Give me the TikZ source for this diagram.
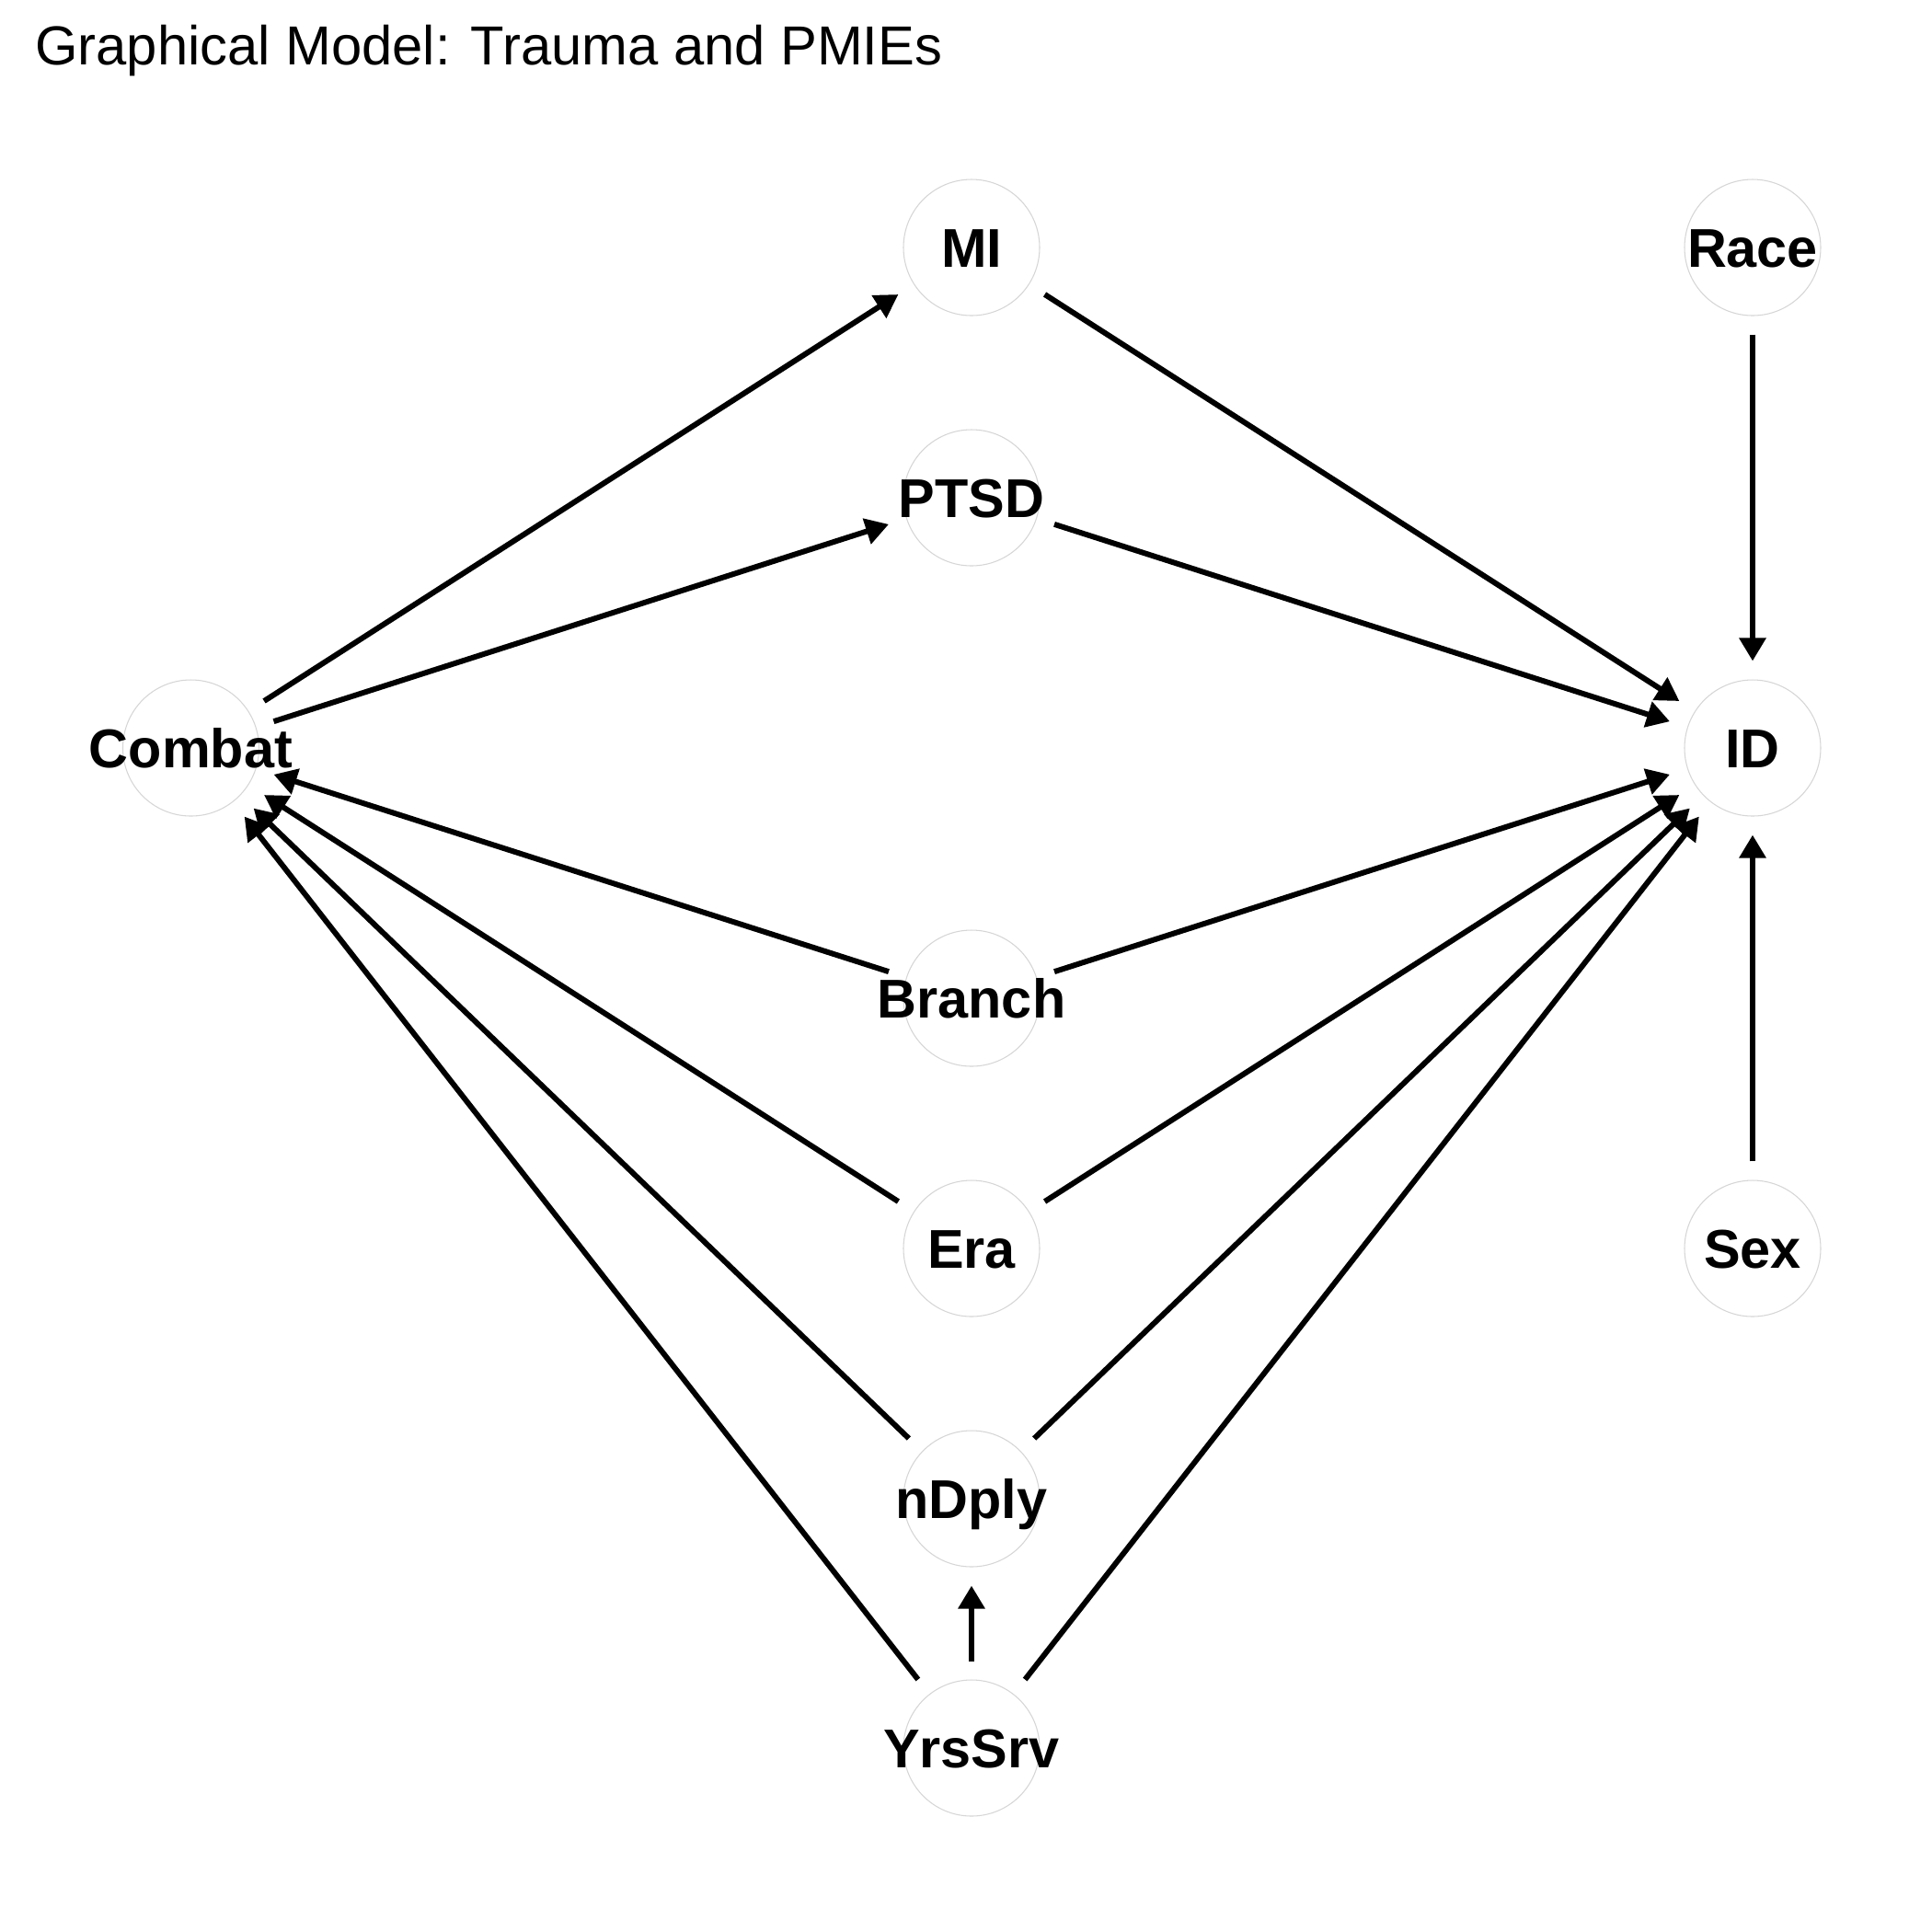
\documentclass[tikz,border=0pt]{standalone}
\usepackage{fontspec}
\setmainfont{Liberation Sans}
\usetikzlibrary{arrows.meta}

% label text: zero width, baseline dropped by half the cap height so the caps sit centred
\newcommand\varlab[1]{\makebox[0pt]{\raisebox{-0.213cm}{#1}}}

\begin{document}
\begin{tikzpicture}[x=1cm,y=1cm,
  var/.style={circle, draw=gray!32, line width=0.3pt, minimum size=1.48cm,
    inner sep=0pt, text height=0pt, text depth=0pt,
    font=\fontsize{16.9}{20}\selectfont\bfseries},
  edge/.style={line width=1.7pt,
    -{Triangle[length=0.25cm,width=0.28cm]},
    shorten >=0.2cm, shorten <=0.2cm}]

  % canvas
  \path[fill=white,use as bounding box] (0,0) rectangle (21,-21);

  % title
  \node[anchor=base west, inner sep=0pt, font=\fontsize{17}{20}\selectfont]
    (title) at (0.375,-0.70) {Graphical Model: Trauma and PMIEs};

  % variables
  \node[var] (MI)     at (10.56,-2.69)  {\varlab{MI}};
  \node[var] (Race)   at (19.05,-2.69)  {\varlab{Race}};
  \node[var] (PTSD)   at (10.56,-5.41)  {\varlab{PTSD}};
  \node[var] (Combat) at (2.075,-8.13)  {\varlab{Combat}};
  \node[var] (ID)     at (19.05,-8.13)  {\varlab{ID}};
  \node[var] (Branch) at (10.56,-10.85) {\varlab{Branch}};
  \node[var] (Era)    at (10.56,-13.57) {\varlab{Era}};
  \node[var] (Sex)    at (19.05,-13.57) {\varlab{Sex}};
  \node[var] (nDply)  at (10.56,-16.29) {\varlab{nDply}};
  \node[var] (YrsSrv) at (10.56,-19.00) {\varlab{YrsSrv}};

  % directed edges
  \draw[edge] (Combat) -- (MI);
  \draw[edge] (Combat) -- (PTSD);
  \draw[edge] (MI) -- (ID);
  \draw[edge] (PTSD) -- (ID);
  \draw[edge] (Race) -- (ID);
  \draw[edge] (Sex) -- (ID);
  \draw[edge] (Branch) -- (Combat);
  \draw[edge] (Branch) -- (ID);
  \draw[edge] (Era) -- (Combat);
  \draw[edge] (Era) -- (ID);
  \draw[edge] (nDply) -- (Combat);
  \draw[edge] (nDply) -- (ID);
  \draw[edge] (YrsSrv) -- (Combat);
  \draw[edge] (YrsSrv) -- (ID);
  \draw[edge] (YrsSrv) -- (nDply);
\end{tikzpicture}
\end{document}
